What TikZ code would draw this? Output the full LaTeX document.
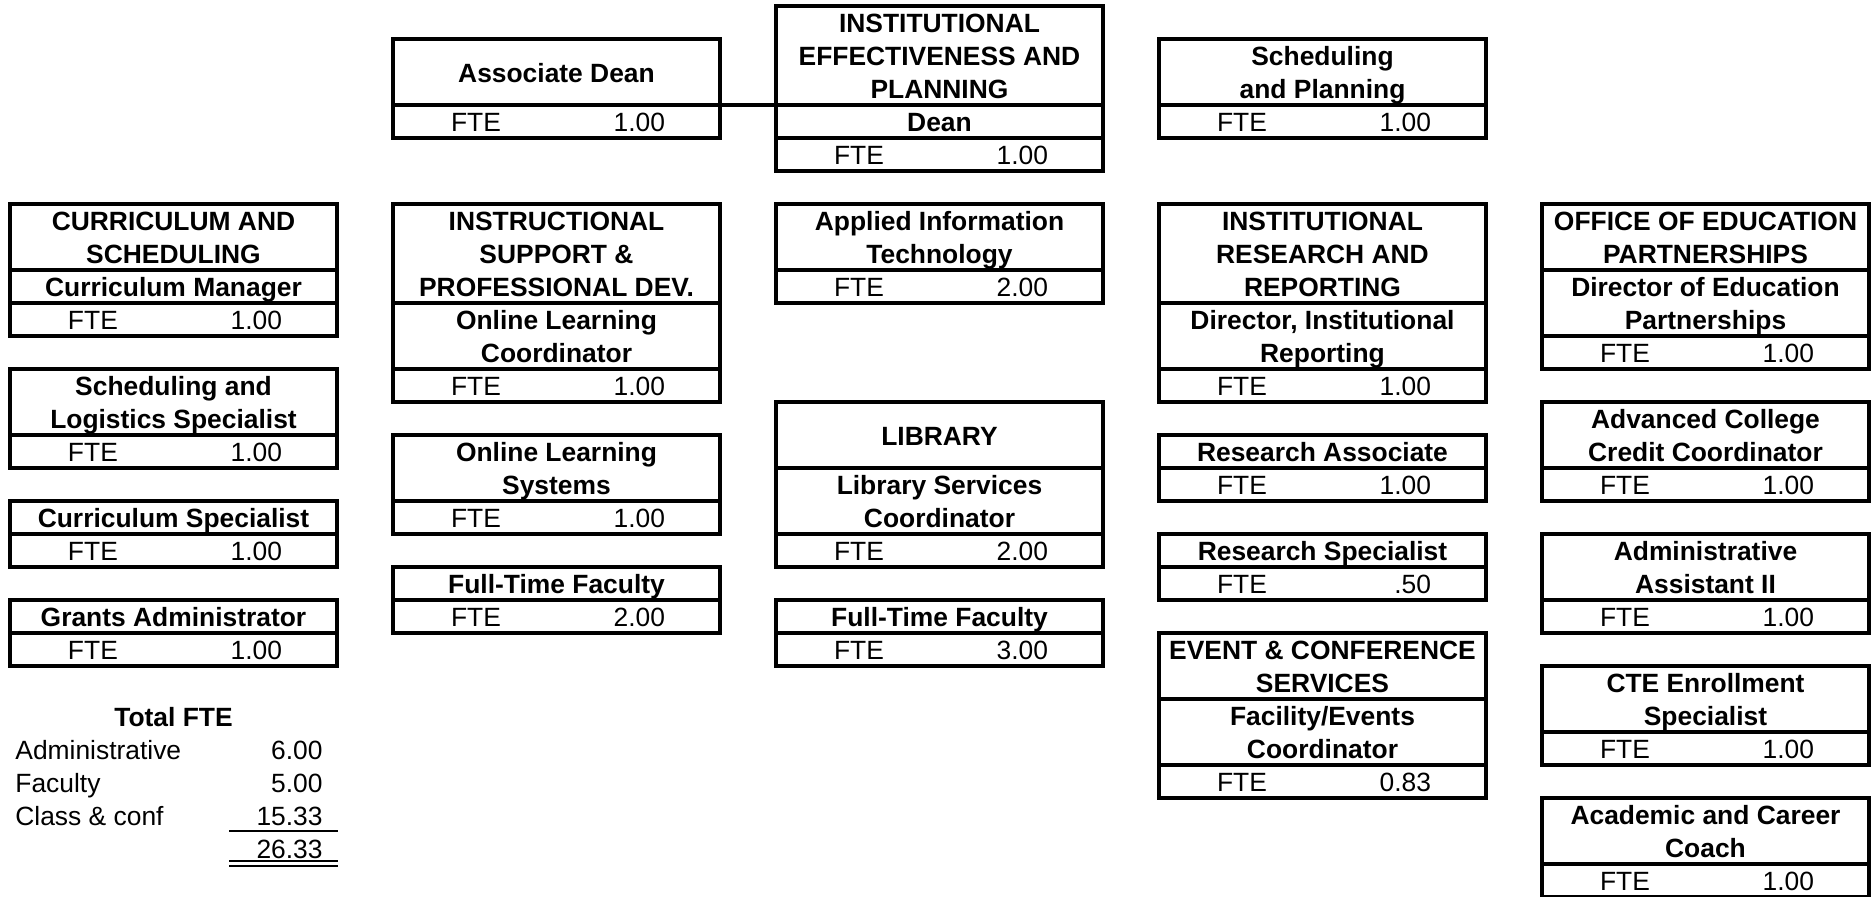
\documentclass[tikz,border=0pt]{standalone}
\usepackage{fontspec}
\setmainfont{Liberation Sans}
\usetikzlibrary{positioning}
\newcommand{\rs}{\rule[-3.15pt]{0pt}{16.5pt}}
\newcommand{\fte}[1]{\rs\makebox[163.5pt]{\hspace{29pt}FTE\hfill#1\hspace{27.5pt}}}

\begin{document}
\begin{tikzpicture}[x=0.5pt,y=0.5pt,
    cell/.style={draw,line width=1.7pt,inner sep=0pt,outer sep=0pt,
      minimum width=163.5pt,minimum height=#1*16.5pt,align=center,
      font=\bfseries\fontsize{13.2}{16.5}\selectfont},
    cell/.default=1,
    fterow/.style={cell,font=\fontsize{13.2}{16.5}\selectfont},
    sumtxt/.style={inner sep=0pt,font=\fontsize{13.2}{16.5}\selectfont,
      execute at begin node=\rs}]
  \useasboundingbox (0,0) rectangle (1875,-896);

  % first column
  \node[cell=2,anchor=north west] (curA) at (10,-204) {\rs CURRICULUM AND\\\rs SCHEDULING};
  \node[cell,below=0pt of curA] (curB) {\rs Curriculum Manager};
  \node[fterow,below=0pt of curB] (curF) {\fte{1.00}};
  \node[cell=2,anchor=north west] (slsA) at (10,-369) {\rs Scheduling and\\\rs Logistics Specialist};
  \node[fterow,below=0pt of slsA] (slsF) {\fte{1.00}};
  \node[cell,anchor=north west] (cspA) at (10,-501) {\rs Curriculum Specialist};
  \node[fterow,below=0pt of cspA] (cspF) {\fte{1.00}};
  \node[cell,anchor=north west] (graA) at (10,-600) {\rs Grants Administrator};
  \node[fterow,below=0pt of graA] (graF) {\fte{1.00}};

  % second column
  \node[cell=2,anchor=north west] (adA) at (393,-39) {\rs Associate Dean};
  \node[fterow,below=0pt of adA] (adF) {\fte{1.00}};
  \node[cell=3,anchor=north west] (ispA) at (393,-204) {\rs INSTRUCTIONAL\\\rs SUPPORT \&\\\rs PROFESSIONAL DEV.};
  \node[cell=2,below=0pt of ispA] (ispB) {\rs Online Learning\\\rs Coordinator};
  \node[fterow,below=0pt of ispB] (ispF) {\fte{1.00}};
  \node[cell=2,anchor=north west] (olsA) at (393,-435) {\rs Online Learning\\\rs Systems};
  \node[fterow,below=0pt of olsA] (olsF) {\fte{1.00}};
  \node[cell,anchor=north west] (ftbA) at (393,-567) {\rs Full-Time Faculty};
  \node[fterow,below=0pt of ftbA] (ftbF) {\fte{2.00}};

  % third column
  \node[cell=3,anchor=north west] (iepA) at (776,-6) {\rs INSTITUTIONAL\\\rs EFFECTIVENESS AND\\\rs PLANNING};
  \node[cell,below=0pt of iepA] (iepB) {\rs Dean};
  \node[fterow,below=0pt of iepB] (iepF) {\fte{1.00}};
  \node[cell=2,anchor=north west] (aitA) at (776,-204) {\rs Applied Information\\\rs Technology};
  \node[fterow,below=0pt of aitA] (aitF) {\fte{2.00}};
  \node[cell=2,anchor=north west] (libA) at (776,-402) {\rs LIBRARY};
  \node[cell=2,below=0pt of libA] (libB) {\rs Library Services\\\rs Coordinator};
  \node[fterow,below=0pt of libB] (libF) {\fte{2.00}};
  \node[cell,anchor=north west] (ftcA) at (776,-600) {\rs Full-Time Faculty};
  \node[fterow,below=0pt of ftcA] (ftcF) {\fte{3.00}};

  % fourth column
  \node[cell=2,anchor=north west] (spA) at (1159,-39) {\rs Scheduling\\\rs and Planning};
  \node[fterow,below=0pt of spA] (spF) {\fte{1.00}};
  \node[cell=3,anchor=north west] (irrA) at (1159,-204) {\rs INSTITUTIONAL\\\rs RESEARCH AND\\\rs REPORTING};
  \node[cell=2,below=0pt of irrA] (irrB) {\rs Director, Institutional\\\rs Reporting};
  \node[fterow,below=0pt of irrB] (irrF) {\fte{1.00}};
  \node[cell,anchor=north west] (raA) at (1159,-435) {\rs Research Associate};
  \node[fterow,below=0pt of raA] (raF) {\fte{1.00}};
  \node[cell,anchor=north west] (rsA) at (1159,-534) {\rs Research Specialist};
  \node[fterow,below=0pt of rsA] (rsF) {\fte{.50}};
  \node[cell=2,anchor=north west] (ecsA) at (1159,-633) {\rs EVENT \& CONFERENCE\\\rs SERVICES};
  \node[cell=2,below=0pt of ecsA] (ecsB) {\rs Facility/Events\\\rs Coordinator};
  \node[fterow,below=0pt of ecsB] (ecsF) {\fte{0.83}};

  % fifth column
  \node[cell=2,anchor=north west] (oepA) at (1542,-204) {\rs OFFICE OF EDUCATION\\\rs PARTNERSHIPS};
  \node[cell=2,below=0pt of oepA] (oepB) {\rs Director of Education\\\rs Partnerships};
  \node[fterow,below=0pt of oepB] (oepF) {\fte{1.00}};
  \node[cell=2,anchor=north west] (accA) at (1542,-402) {\rs Advanced College\\\rs Credit Coordinator};
  \node[fterow,below=0pt of accA] (accF) {\fte{1.00}};
  \node[cell=2,anchor=north west] (aasA) at (1542,-534) {\rs Administrative\\\rs Assistant II};
  \node[fterow,below=0pt of aasA] (aasF) {\fte{1.00}};
  \node[cell=2,anchor=north west] (cteA) at (1542,-666) {\rs CTE Enrollment\\\rs Specialist};
  \node[fterow,below=0pt of cteA] (cteF) {\fte{1.00}};
  \node[cell=2,anchor=north west] (acA) at (1542,-798) {\rs Academic and Career\\\rs Coach};
  \node[fterow,below=0pt of acA] (acF) {\fte{1.00}};

  \draw[line width=1.7pt] (adA.south east) -- (iepA.south west);

  % totals
  \node[sumtxt,font=\bfseries\fontsize{13.2}{16.5}\selectfont,anchor=north] (totH) at (173.5,-699) {Total FTE};
  \foreach \lbl/\val/\y [count=\i] in {Administrative/6.00/732,Faculty/5.00/765,Class \& conf/15.33/798} {
    \node[sumtxt,anchor=north west] (lbl\i) at (15,-\y) {\lbl};
    \node[sumtxt,anchor=north east] (val\i) at (323,-\y) {\val};
  }
  \node[sumtxt,anchor=north east] (totV) at (323,-831) {26.33};
  \draw[line width=1.35pt] (229,-831) -- (338,-831);
  \draw[line width=0.9pt,double,double distance=1.25pt] (229,-863.5) -- (338,-863.5);
\end{tikzpicture}
\end{document}
